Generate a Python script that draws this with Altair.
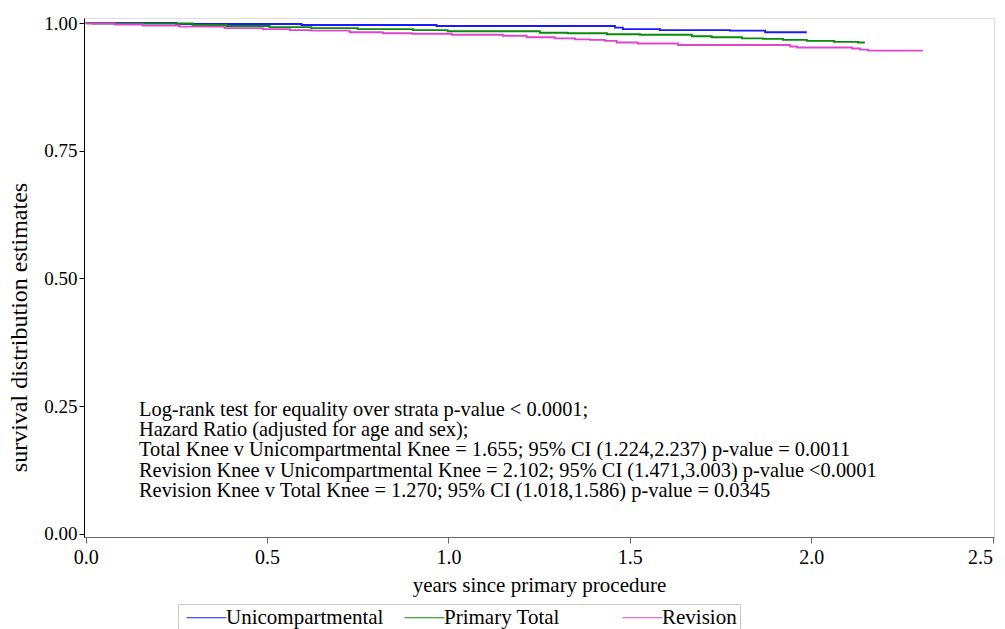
import altair as alt
import pandas as pd

# ---- data ----
groups = ["Unicompartmental", "Primary Total", "Revision"]
colors = ["#1a1aff", "#0a8a0a", "#e046cc"]

uni_t = [0.000, 0.250, 0.595, 0.967, 1.459, 1.481, 1.583, 1.776, 1.873, 1.988]
uni_s = [1.000, 0.998, 0.996, 0.994, 0.991, 0.988, 0.986, 0.985, 0.982, 0.982]

tot_t = [0.000, 0.020, 0.295, 0.389, 0.507, 0.622, 0.750, 0.902, 0.998, 1.252,
         1.329, 1.437, 1.528, 1.671, 1.726, 1.809, 1.867, 1.922, 1.988, 2.063,
         2.129, 2.148]
tot_s = [1.000, 0.999, 0.996, 0.994, 0.992, 0.990, 0.988, 0.986, 0.984, 0.981,
         0.980, 0.978, 0.977, 0.974, 0.972, 0.970, 0.969, 0.967, 0.965, 0.963,
         0.962, 0.962]

rev_t = [0.000, 0.003, 0.080, 0.157, 0.259, 0.383, 0.488, 0.563, 0.622, 0.728,
         0.819, 0.899, 1.009, 1.150, 1.216, 1.293, 1.349, 1.390, 1.431, 1.464,
         1.522, 1.633, 1.942, 1.961, 2.113, 2.135, 2.157, 2.308]
rev_s = [1.000, 0.999, 0.997, 0.995, 0.993, 0.990, 0.988, 0.986, 0.985, 0.982,
         0.980, 0.979, 0.977, 0.975, 0.972, 0.970, 0.968, 0.967, 0.965, 0.962,
         0.960, 0.957, 0.954, 0.952, 0.950, 0.948, 0.946, 0.946]

x_ticks = [0.0, 0.5, 1.0, 1.5, 2.0, 2.5]
y_ticks = [0.0, 0.25, 0.5, 0.75, 1.0]

annotation = [
    "Log-rank test for equality over strata p-value < 0.0001;",
    "Hazard Ratio (adjusted for age and sex);",
    "Total Knee v Unicompartmental Knee = 1.655; 95% CI (1.224,2.237) p-value = 0.0011",
    "Revision Knee v Unicompartmental Knee = 2.102; 95% CI (1.471,3.003) p-value <0.0001",
    "Revision Knee v Total Knee = 1.270; 95% CI (1.018,1.586) p-value = 0.0345",
]

rows = []
for g, ts, ss in zip(groups, [uni_t, tot_t, rev_t], [uni_s, tot_s, rev_s]):
    for i, (t, s) in enumerate(zip(ts, ss)):
        rows.append({"group": g, "t": t, "s": s, "order": i})
df = pd.DataFrame(rows)

FONT = "Liberation Serif"

x = alt.X("t:Q",
          scale=alt.Scale(domain=[-0.0047, 2.504], nice=False, zero=False),
          axis=alt.Axis(values=x_ticks, format=".1f", title="years since primary procedure",
                        grid=False, labelFont=FONT, labelFontSize=20, labelColor="black",
                        labelAlign={"condition": {"test": "datum.value >= 2.5", "value": "right"},
                                    "value": "center"},
                        titleFont=FONT, titleFontSize=21, titleFontWeight="normal",
                        titleColor="black", titleY=48, titleBaseline="middle",
                        tickSize=6, labelPadding=4, domainColor="#666666",
                        tickColor="#666666", labelFlush=False, labelOverlap=False))
y = alt.Y("s:Q",
          scale=alt.Scale(domain=[-0.0059, 1.0098], nice=False, zero=False),
          axis=alt.Axis(values=y_ticks, format=".2f", title="survival distribution estimates",
                        grid=False, labelFont=FONT, labelFontSize=19, labelColor="black",
                        titleFont=FONT, titleFontSize=24, titleFontWeight="normal",
                        titleColor="black", titleX=-58, titleY=309, titleAngle=270,
                        titleAlign="center", titleBaseline="alphabetic",
                        tickSize=5, labelPadding=2, domainColor="black",
                        tickColor="black", labelFlush=False, labelOverlap=False))

lines = alt.Chart(df).mark_line(interpolate="step-after", strokeWidth=1.9, clip=True).encode(
    x=x, y=y,
    order="order:Q",
    color=alt.Color("group:N",
                    scale=alt.Scale(domain=groups, range=colors),
                    sort=groups,
                    legend=alt.Legend(title=None, orient="none", legendX=94, legendY=586,
                                      direction="horizontal", columns=3, gridAlign="all",
                                      columnPadding=15, symbolType="M-1,0L7,0",
                                      symbolSize=100, symbolStrokeWidth=1,
                                      labelFont=FONT, labelFontSize=21,
                                      labelColor="black", labelOffset=24, padding=3,
                                      strokeColor="#c8c8c8", fillColor="white",
                                      labelLimit=400)),
)

text = alt.Chart().mark_text(
    text=annotation, align="left", baseline="alphabetic", font=FONT, fontSize=20.4,
    lineHeight=20.4, color="black"
).encode(x=alt.value(55), y=alt.value(397.7))

chart = alt.layer(lines, text).properties(
    width=910, height=519,
    autosize=alt.AutoSizeParams(type="none"),
    padding={"left": 76, "top": 10, "right": 3, "bottom": 100},
).configure_view(stroke="#333333", strokeWidth=1.5).configure(background="white")

chart.save("out.html", embed_options={"renderer": "svg", "actions": False})
